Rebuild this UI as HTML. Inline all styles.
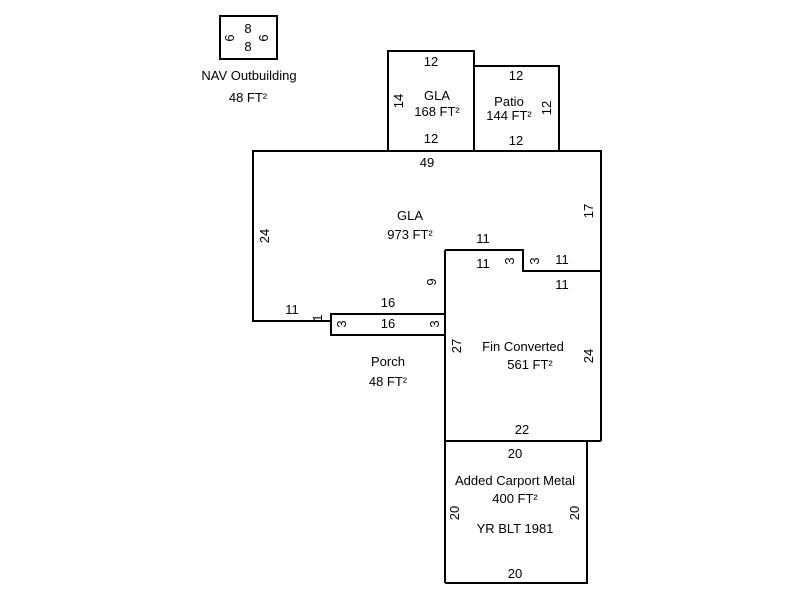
<!DOCTYPE html>
<html><head><meta charset="utf-8"><style>
body{margin:0;background:#fff;}
svg text{font-family:"Liberation Sans",Arial,sans-serif;font-size:13px;fill:#000;}
</style></head><body>
<svg width="800" height="600" viewBox="0 0 800 600" xmlns="http://www.w3.org/2000/svg">
<g fill="none" stroke="#000" stroke-width="2">
<rect x="220" y="16" width="57" height="43"/>
<rect x="388" y="51" width="86" height="100"/>
<rect x="474" y="66" width="85" height="85"/>
<polyline points="331,321 253,321 253,151 601,151 601,441"/>
<polyline points="445,250 523,250 523,271 601,271"/>
<rect x="331" y="314" width="114" height="21"/>
<line x1="445" y1="250" x2="445" y2="583"/>
<line x1="445" y1="441" x2="601" y2="441"/>
<polyline points="445,583 587,583 587,441"/>
</g>
<g text-anchor="middle">
<text x="248" y="33">8</text>
<text x="248" y="51">8</text>
<text x="249" y="80">NAV Outbuilding</text>
<text x="248" y="102">48 FT²</text>
<text x="431" y="66">12</text>
<text x="437" y="100">GLA</text>
<text x="437" y="116">168 FT²</text>
<text x="431" y="143">12</text>
<text x="516" y="80">12</text>
<text x="509" y="106">Patio</text>
<text x="509" y="120">144 FT²</text>
<text x="516" y="145">12</text>
<text x="427" y="167">49</text>
<text x="410" y="220">GLA</text>
<text x="410" y="239">973 FT²</text>
<text x="483" y="243">11</text>
<text x="483" y="268">11</text>
<text x="562" y="264">11</text>
<text x="562" y="289">11</text>
<text x="388" y="307">16</text>
<text x="388" y="328">16</text>
<text x="292" y="314">11</text>
<text x="388" y="366">Porch</text>
<text x="388" y="386">48 FT²</text>
<text x="523" y="351">Fin Converted</text>
<text x="530" y="369">561 FT²</text>
<text x="522" y="434">22</text>
<text x="515" y="458">20</text>
<text x="515" y="485">Added Carport Metal</text>
<text x="515" y="503">400 FT²</text>
<text x="515" y="533">YR BLT 1981</text>
<text x="515" y="578">20</text>
</g>
<g text-anchor="middle">
<text transform="translate(234,38) rotate(-90)">6</text>
<text transform="translate(268,38) rotate(-90)">6</text>
<text transform="translate(403,101) rotate(-90)">14</text>
<text transform="translate(551,108) rotate(-90)">12</text>
<text transform="translate(269,236) rotate(-90)">24</text>
<text transform="translate(593,211) rotate(-90)">17</text>
<text transform="translate(436,282) rotate(-90)">9</text>
<text transform="translate(514,261) rotate(-90)">3</text>
<text transform="translate(539,261) rotate(-90)">3</text>
<text transform="translate(322,318) rotate(-90)">1</text>
<text transform="translate(346,324) rotate(-90)">3</text>
<text transform="translate(439,324) rotate(-90)">3</text>
<text transform="translate(461,346) rotate(-90)">27</text>
<text transform="translate(593,356) rotate(-90)">24</text>
<text transform="translate(459,513) rotate(-90)">20</text>
<text transform="translate(579,513) rotate(-90)">20</text>
</g>
</svg>
</body></html>
